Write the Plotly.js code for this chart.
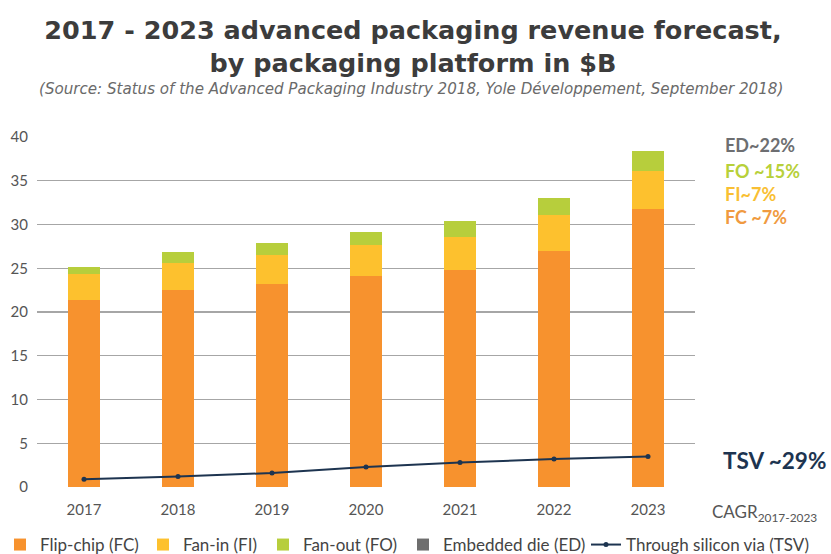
<!DOCTYPE html>
<html>
<head>
<meta charset="utf-8">
<script src="https://cdn.plot.ly/plotly-3.0.1.min.js"></script>
<style>html,body{margin:0;padding:0;background:#fff;}#chart{width:831px;height:554px;}</style>
</head>
<body>
<div id="chart"></div>
<script>
const years = ['2017','2018','2019','2020','2021','2022','2023'];
const flipChip = [21.4, 22.5, 23.2, 24.1, 24.8, 27.0, 31.8];
const fanIn = [2.9, 3.1, 3.3, 3.6, 3.8, 4.1, 4.3];
const fanOut = [0.8, 1.3, 1.4, 1.4, 1.8, 1.9, 2.3];
const embeddedDie = [0.01, 0.01, 0.01, 0.01, 0.01, 0.01, 0.01];
const tsv = [0.9, 1.2, 1.6, 2.3, 2.8, 3.2, 3.5];
const yTicks = [0, 5, 10, 15, 20, 25, 30, 35, 40];
const cagrLabels = ['ED~22%', 'FO ~15%', 'FI~7%', 'FC ~7%'];
const tsvCagr = 'TSV ~29%';

const font = 'Lato, "Open Sans", sans-serif';
const colors = {fc:'#F7922E', fi:'#FDC12E', fo:'#B7CE3C', ed:'#6E6E6E', tsv:'#1D3450'};

const traces = [
  {type:'bar', name:'Flip-chip (FC)', x:years, y:flipChip, marker:{color:colors.fc, line:{width:0}}, legend:'legend'},
  {type:'bar', name:'Fan-in (FI)', x:years, y:fanIn, marker:{color:colors.fi, line:{width:0}}, legend:'legend2'},
  {type:'bar', name:'Fan-out (FO)', x:years, y:fanOut, marker:{color:colors.fo, line:{width:0}}, legend:'legend3'},
  {type:'bar', name:'Embedded die (ED)', x:years, y:embeddedDie, marker:{color:colors.ed, line:{width:0}}, legend:'legend4'},
  {type:'scatter', mode:'lines+markers', name:'Through silicon via (TSV)', x:years, y:tsv,
   line:{color:colors.tsv, width:2}, marker:{color:colors.tsv, size:5}, legend:'legend5'}
];

// pixel -> paper coordinates (plot area: x 37..695, y 137..487)
function px(x) { return (x - 37) / 658; }
function py(y) { return (487 - y) / 350; }
function cy(y) { return 1 - y / 554; }

const annColors = ['#6D6E71', '#B7D03A', '#F9BF33', '#F09A40'];
const annY = [145, 171, 194, 217];
const annotations = cagrLabels.map((t, i) => ({
  xref:'paper', yref:'paper', x:px(723), y:py(annY[i]),
  xanchor:'left', yanchor:'middle', text:t, showarrow:false,
  font:{family:font, size:18, color:annColors[i], weight:'bold'}
}));
annotations.push({
  xref:'paper', yref:'paper', x:px(721), y:py(460),
  xanchor:'left', yanchor:'middle', text:tsvCagr, showarrow:false,
  font:{family:font, size:22.5, color:colors.tsv, weight:'bold'}
});
annotations.push({
  xref:'paper', yref:'paper', x:px(710), y:py(513),
  xanchor:'left', yanchor:'middle', text:'CAGR<sub>2017-2023</sub>', showarrow:false,
  font:{family:font, size:17, color:'#555'}
});
annotations.push({
  xref:'paper', yref:'paper', x:px(411), y:py(89),
  xanchor:'center', yanchor:'middle',
  text:'<i>(Source: Status of the Advanced Packaging Industry 2018, Yole Développement, September 2018)</i>',
  showarrow:false, font:{family:'"DejaVu Sans", sans-serif', size:15.1, color:'#6A6A6A'}
});

function legendAt(textStart) {
  return {orientation:'h', xref:'container', x:(textStart - 40) / 831, xanchor:'left',
    yref:'container', y:cy(545), yanchor:'middle', bgcolor:'rgba(0,0,0,0)',
    font:{family:font, size:17, color:'#444'}, itemwidth:30};
}

const layout = {
  width:831, height:554,
  margin:{l:37, r:136, t:137, b:67, autoexpand:false},
  paper_bgcolor:'#fff', plot_bgcolor:'#fff',
  title:{text:'<b>2017 - 2023 advanced packaging revenue forecast,<br>by packaging platform in $B</b>',
    x:0.497, xref:'container', y:cy(39), yref:'container', yanchor:'middle',
    font:{family:'"DejaVu Sans", Verdana, sans-serif', size:25.5, color:'#3C3C3C'}},
  barmode:'stack', bargap:0.65,
  showlegend:true,
  legend:legendAt(40),
  legend2:legendAt(183),
  legend3:legendAt(303),
  legend4:legendAt(443),
  legend5:legendAt(626),
  xaxis:{type:'category', showgrid:false, zeroline:false, showline:false, ticks:'', ticklabelstandoff:12,
    tickfont:{family:font, size:15, color:'#555'}, automargin:false},
  yaxis:{range:[0,40], tickvals:yTicks, showgrid:true, gridcolor:'#A6A6A6', gridwidth:1.3,
    zeroline:false, showline:false, ticks:'', ticklabelstandoff:8,
    tickfont:{family:font, size:15, color:'#555'}, automargin:false},
  annotations:annotations
};

Plotly.newPlot('chart', traces, layout, {displayModeBar:false, staticPlot:true});
</script>
</body>
</html>
